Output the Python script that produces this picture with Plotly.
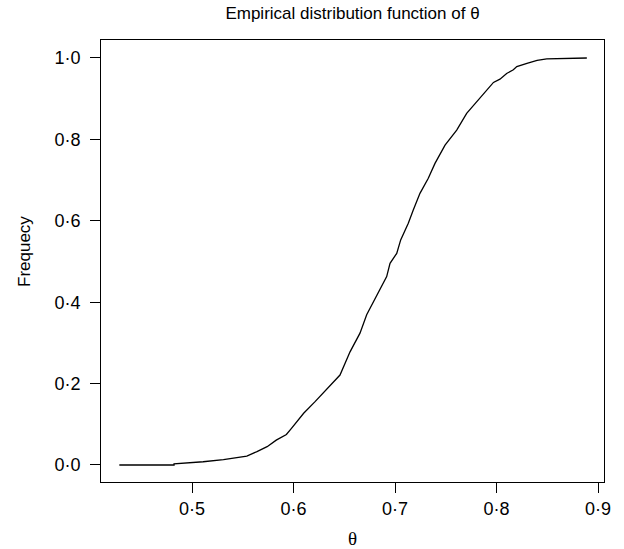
import plotly.graph_objects as go

# Points (theta, cumulative frequency)
theta = [0.4284, 0.4823, 0.4823, 0.500, 0.511, 0.531, 0.547, 0.554, 0.564, 0.574,
         0.583, 0.593, 0.598, 0.603, 0.610, 0.621, 0.6327, 0.6458, 0.6557, 0.6655,
         0.6721, 0.682, 0.6918, 0.6951, 0.7017, 0.7056, 0.7131, 0.718, 0.7246,
         0.7328, 0.7394, 0.7493, 0.7608, 0.7706, 0.7821, 0.7913, 0.797, 0.8034,
         0.810, 0.8166, 0.820, 0.830, 0.840, 0.8495, 0.889]
freq = [0.0, 0.0, 0.003, 0.005, 0.008, 0.013, 0.018, 0.022, 0.033, 0.045,
        0.061, 0.075, 0.090, 0.106, 0.127, 0.155, 0.186, 0.221, 0.278, 0.324,
        0.369, 0.418, 0.463, 0.4955, 0.520, 0.553, 0.594, 0.6265, 0.6675,
        0.7044, 0.741, 0.786, 0.823, 0.864, 0.897, 0.921, 0.940, 0.948,
        0.962, 0.971, 0.979, 0.987, 0.994, 0.998, 1.0]

x_ticks = [0.5, 0.6, 0.7, 0.8, 0.9]
x_tick_labels = ["0·5", "0·6", "0·7", "0·8", "0·9"]
y_ticks = [0.0, 0.2, 0.4, 0.6, 0.8, 1.0]
y_tick_labels = ["0·0", "0·2", "0·4", "0·6", "0·8", "1·0"]

font_sans = "Liberation Sans, Arial, sans-serif"

# plot area in pixels
L, R, T, B = 101, 604, 40, 482
W, H = 624, 549
pw, ph = R - L, B - T

fig = go.Figure()
fig.add_trace(go.Scatter(
    x=theta, y=freq, mode="lines",
    line=dict(color="black", width=1.3, shape="linear"),
    showlegend=False, hoverinfo="x+y",
))

fig.update_layout(
    width=W, height=H,
    margin=dict(l=L, r=W - R, t=T, b=H - B),
    paper_bgcolor="white", plot_bgcolor="white",
    font=dict(family=font_sans, size=18, color="black"),
    title=dict(text="Empirical distribution function of θ",
               x=(L + R) / 2 / W, xanchor="center",
               y=1 - 13 / H, yanchor="middle",
               font=dict(family=font_sans, size=17, color="black")),
    annotations=[
        dict(text="θ", xref="paper", yref="paper",
             x=0.5, y=(B - 538) / ph, xanchor="center", yanchor="middle",
             showarrow=False,
             font=dict(family="Liberation Serif, Times New Roman, serif", size=19)),
        dict(text="Frequecy", xref="paper", yref="paper",
             x=(25 - L) / pw, y=(B - 252) / ph, xanchor="center", yanchor="middle",
             textangle=-90, showarrow=False,
             font=dict(family=font_sans, size=17)),
    ],
)

fig.update_xaxes(
    range=[0.41034, 0.90591], tickvals=x_ticks, ticktext=x_tick_labels,
    ticks="outside", ticklen=10, tickwidth=1, tickcolor="black",
    showline=True, linecolor="black", linewidth=1, mirror=True,
    showgrid=False, zeroline=False, automargin=False,
    tickfont=dict(family=font_sans, size=18),
)
fig.update_yaxes(
    range=[-0.0418, 1.0442], tickvals=y_ticks, ticktext=y_tick_labels,
    ticks="outside", ticklen=10, tickwidth=1, tickcolor="black",
    showline=True, linecolor="black", linewidth=1, mirror=True,
    showgrid=False, zeroline=False, automargin=False,
    tickfont=dict(family=font_sans, size=18),
    ticklabelstandoff=6,
)

fig.write_html("out.html")
